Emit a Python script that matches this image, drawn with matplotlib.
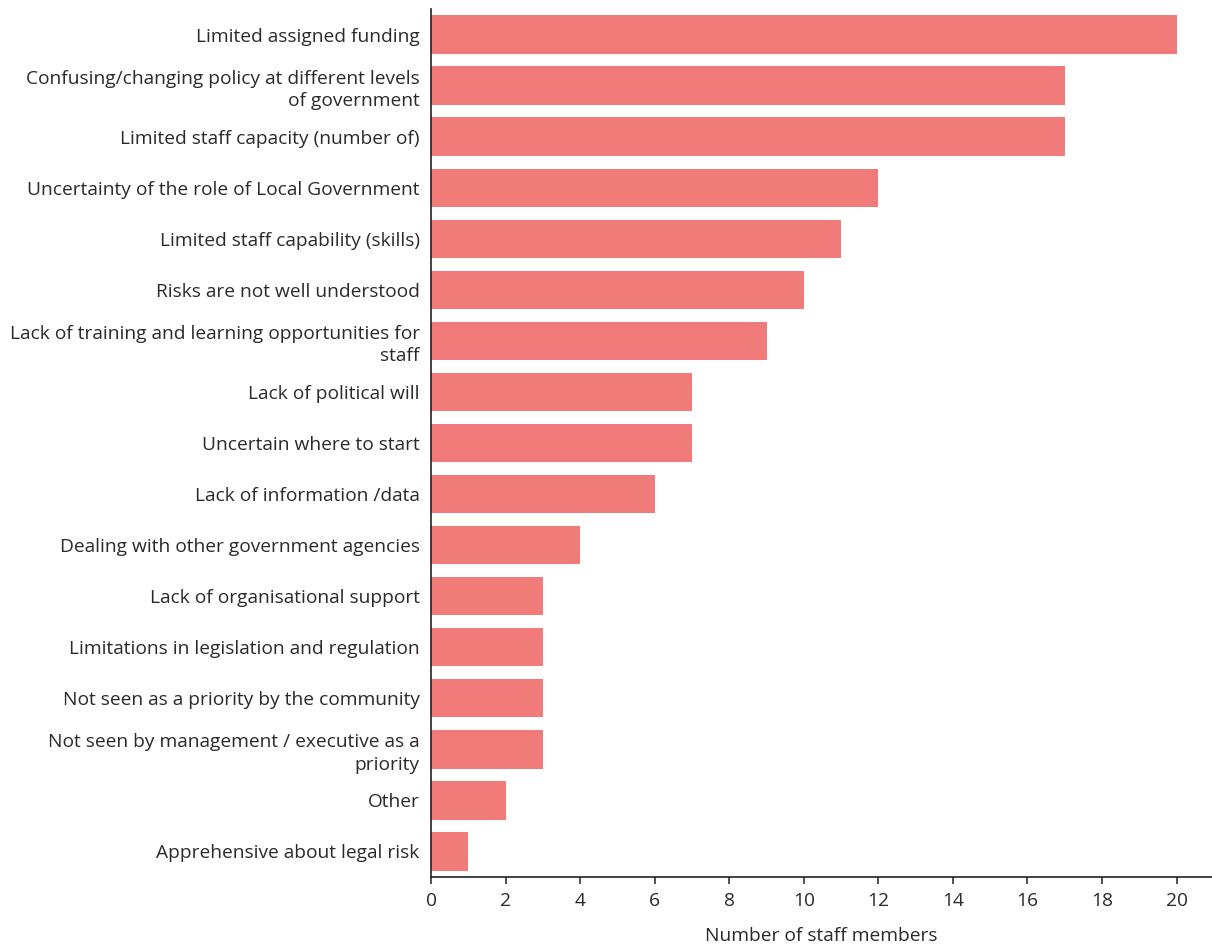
import matplotlib
matplotlib.use("Agg")
import matplotlib.pyplot as plt

categories = [
    "Limited assigned funding",
    "Confusing/changing policy at different levels\nof government",
    "Limited staff capacity (number of)",
    "Uncertainty of the role of Local Government",
    "Limited staff capability (skills)",
    "Risks are not well understood",
    "Lack of training and learning opportunities for\nstaff",
    "Lack of political will",
    "Uncertain where to start",
    "Lack of information /data",
    "Dealing with other government agencies",
    "Lack of organisational support",
    "Limitations in legislation and regulation",
    "Not seen as a priority by the community",
    "Not seen by management / executive as a\npriority",
    "Other",
    "Apprehensive about legal risk",
]
values = [20, 17, 17, 12, 11, 10, 9, 7, 7, 6, 4, 3, 3, 3, 3, 2, 1]
xticks = [0, 2, 4, 6, 8, 10, 12, 14, 16, 18, 20]

plt.rcParams['font.family'] = ['Open Sans', 'DejaVu Sans']
text_color = '#2a2a2a'

fig = plt.figure(figsize=(12.12, 9.47), dpi=100)
ax = fig.add_axes([0.3554, 0.0739, 0.6446, 0.9166])
y = list(range(len(categories)))
ax.barh(y, values, height=0.75, color='#F07B78')
ax.set_ylim(len(categories) - 0.5, -0.5)
ax.set_xlim(-0.01, 20.95)
ax.set_yticks(y)
ax.set_yticklabels(categories, fontsize=13.8, color=text_color, linespacing=1.3)
ax.set_xticks(xticks)
ax.set_xticklabels([str(t) for t in xticks], fontsize=13.8, color=text_color)
ax.tick_params(axis='y', length=0, pad=8)
ax.tick_params(axis='x', length=5, width=1.2, color='#333333', pad=6)
for s in ['top', 'right']:
    ax.spines[s].set_visible(False)
ax.spines['left'].set_color('#222222')
ax.spines['bottom'].set_color('#222222')
ax.spines['left'].set_linewidth(1.2)
ax.spines['bottom'].set_linewidth(1.2)
ax.set_xlabel("Number of staff members", fontsize=13.8, color=text_color, labelpad=12)

fig.savefig("out.png", dpi=100)
